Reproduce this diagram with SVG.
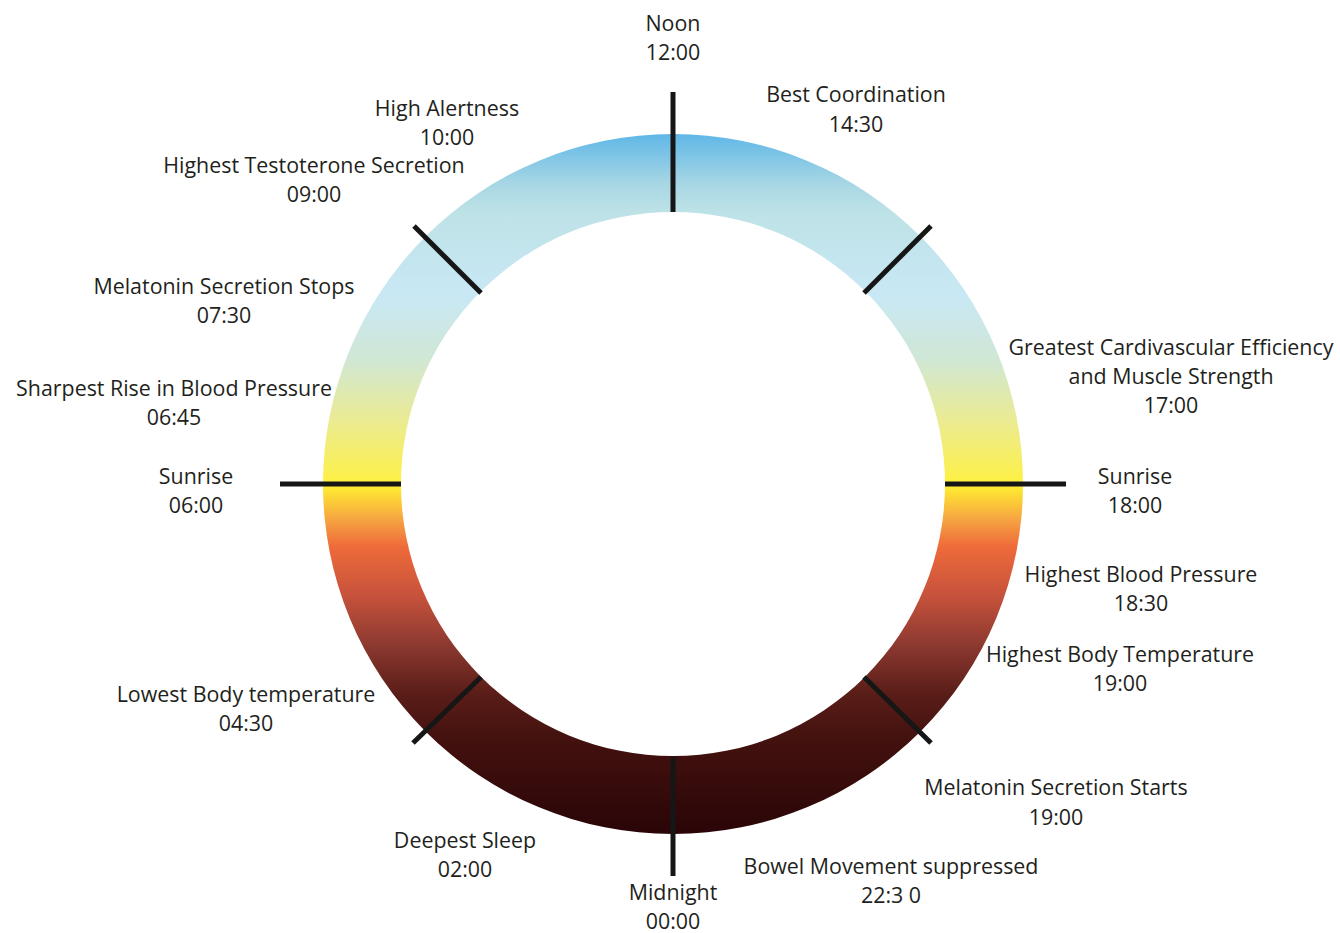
<svg xmlns="http://www.w3.org/2000/svg" width="1340" height="933" viewBox="0 0 1340 933">
<style>
text{font-family:"Open Sans","Noto Sans",sans-serif;font-size:21.4px;fill:#231f20;text-anchor:middle}
.tick{stroke:#161616;stroke-width:5;fill:none}
</style>
<defs>
<linearGradient id="g" x1="0" y1="134" x2="0" y2="834" gradientUnits="userSpaceOnUse">
<stop offset="0" stop-color="#5fb7e7"/>
<stop offset="0.07" stop-color="#a6d6e4"/>
<stop offset="0.11" stop-color="#bde2e6"/>
<stop offset="0.23" stop-color="#c9e8f5"/>
<stop offset="0.32" stop-color="#cfe7d6"/>
<stop offset="0.41" stop-color="#ebeb92"/>
<stop offset="0.49" stop-color="#fcf04c"/>
<stop offset="0.5" stop-color="#fff13a"/>
<stop offset="0.51" stop-color="#fee332"/>
<stop offset="0.55" stop-color="#f6a542"/>
<stop offset="0.59" stop-color="#ee6a3a"/>
<stop offset="0.66" stop-color="#c6523c"/>
<stop offset="0.73" stop-color="#8c3930"/>
<stop offset="0.8" stop-color="#5a1d18"/>
<stop offset="0.86" stop-color="#44120f"/>
<stop offset="1" stop-color="#2a0507"/>
</linearGradient>
</defs>
<g id="ring">
<path fill="url(#g)" fill-rule="evenodd" d="M323,484a350,350 0 1,0 700,0a350,350 0 1,0 -700,0ZM401,484a272,272 0 1,0 544,0a272,272 0 1,0 -544,0Z"/>
</g>
<g id="connectors">
<line class="tick" x1="673" y1="92" x2="673" y2="212"/>
<line class="tick" x1="673" y1="757" x2="673" y2="876"/>
<line class="tick" x1="280" y1="484" x2="401" y2="484"/>
<line class="tick" x1="945" y1="484" x2="1066" y2="484"/>
<line class="tick" x1="414" y1="226" x2="481" y2="293"/>
<line class="tick" x1="931" y1="226" x2="864" y2="293"/>
<line class="tick" x1="413" y1="743" x2="481" y2="677"/>
<line class="tick" x1="931" y1="743" x2="864" y2="677"/>
</g>
<g id="noon"><text x="673" y="31">Noon</text><text x="673" y="60">12:00</text></g>
<g id="best-coordination"><text x="856" y="102">Best Coordination</text><text x="856" y="132">14:30</text></g>
<g id="high-alertness"><text x="447" y="116">High Alertness</text><text x="447" y="145">10:00</text></g>
<g id="testosterone"><text x="314" y="173">Highest Testoterone Secretion</text><text x="314" y="202">09:00</text></g>
<g id="melatonin-stops"><text x="224" y="294">Melatonin Secretion Stops</text><text x="224" y="323">07:30</text></g>
<g id="blood-pressure-rise"><text x="174" y="396">Sharpest Rise in Blood Pressure</text><text x="174" y="425">06:45</text></g>
<g id="sunrise-left"><text x="196" y="484">Sunrise</text><text x="196" y="513">06:00</text></g>
<g id="cardio"><text x="1171" y="355">Greatest Cardivascular Efficiency</text><text x="1171" y="384">and Muscle Strength</text><text x="1171" y="413">17:00</text></g>
<g id="sunrise-right"><text x="1135" y="484">Sunrise</text><text x="1135" y="513">18:00</text></g>
<g id="highest-bp"><text x="1141" y="582">Highest Blood Pressure</text><text x="1141" y="611">18:30</text></g>
<g id="highest-temp"><text x="1120" y="662">Highest Body Temperature</text><text x="1120" y="691">19:00</text></g>
<g id="lowest-temp"><text x="246" y="702">Lowest Body temperature</text><text x="246" y="731">04:30</text></g>
<g id="melatonin-starts"><text x="1056" y="795">Melatonin Secretion Starts</text><text x="1056" y="825">19:00</text></g>
<g id="deepest-sleep"><text x="465" y="848">Deepest Sleep</text><text x="465" y="877">02:00</text></g>
<g id="bowel"><text x="891" y="874">Bowel Movement suppressed</text><text x="891" y="903">22:3 0</text></g>
<g id="midnight"><text x="673" y="900">Midnight</text><text x="673" y="929">00:00</text></g>
</svg>
